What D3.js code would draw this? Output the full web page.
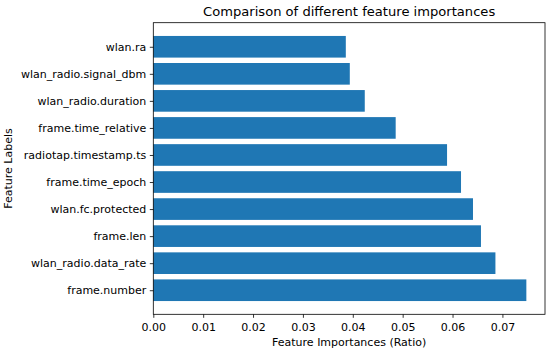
<!DOCTYPE html>
<html>
<head>
<meta charset="utf-8">
<script src="https://cdn.jsdelivr.net/npm/d3@7"></script>
<style>
body { margin: 0; background: #fff; }
text { font-family: "DejaVu Sans", sans-serif; fill: #000; }
</style>
</head>
<body>
<svg width="550" height="351"></svg>
<script>
// features listed bottom to top, as matplotlib barh draws them
var features = ["frame.number", "wlan_radio.data_rate", "frame.len", "wlan.fc.protected",
  "frame.time_epoch", "radiotap.timestamp.ts", "frame.time_relative",
  "wlan_radio.duration", "wlan_radio.signal_dbm", "wlan.ra"];
var importances = [0.0748, 0.0686, 0.0657, 0.0641, 0.0617, 0.0589, 0.0486, 0.0424, 0.0394, 0.0386];
var xTicks = [0, 0.01, 0.02, 0.03, 0.04, 0.05, 0.06, 0.07];

var svg = d3.select("svg");
// note: "top" is taken by window.top, so use plot* names
var plotLeft = 153.3, plotRight = 545, plotTop = 22.7, plotBottom = 314.3;
var barH = 0.8;

var xMax = d3.max(importances) * 1.05;
var x = d3.scaleLinear().domain([0, xMax]).range([plotLeft, plotRight]);

var span = (features.length - 1) + barH;
var y = d3.scaleLinear()
  .domain([-barH / 2 - span * 0.05, features.length - 1 + barH / 2 + span * 0.05])
  .range([plotBottom, plotTop]);

svg.selectAll(".bar")
  .data(importances)
  .enter().append("rect")
  .attr("class", "bar")
  .attr("x", x(0))
  .attr("y", function(d, i) { return y(i + barH / 2); })
  .attr("width", function(d) { return x(d) - x(0); })
  .attr("height", function(d, i) { return y(i - barH / 2) - y(i + barH / 2); })
  .attr("fill", "#1f77b4");

var xAxis = svg.append("g")
  .attr("transform", "translate(0," + plotBottom + ")")
  .call(d3.axisBottom(x).tickValues(xTicks).tickFormat(d3.format(".2f")).tickSize(3.5).tickPadding(5));

var yAxis = svg.append("g")
  .attr("transform", "translate(" + plotLeft + ",0)")
  .call(d3.axisLeft(y).tickValues(d3.range(features.length))
    .tickFormat(function(i) { return features[i]; }).tickSize(3.5).tickPadding(3.5));

[xAxis, yAxis].forEach(function(g) {
  g.select(".domain").remove();
  g.selectAll("line").attr("stroke", "#000").attr("stroke-width", 0.8);
  g.selectAll("text").style("font-size", "11px").attr("fill", "#000");
});

// frame
svg.append("rect")
  .attr("x", plotLeft).attr("y", plotTop)
  .attr("width", plotRight - plotLeft).attr("height", plotBottom - plotTop)
  .attr("fill", "none").attr("stroke", "#000").attr("stroke-width", 0.8);

svg.append("text")
  .attr("x", (plotLeft + plotRight) / 2).attr("y", 15.5)
  .attr("text-anchor", "middle")
  .style("font-size", "13.1px")
  .text("Comparison of different feature importances");

svg.append("text")
  .attr("x", (plotLeft + plotRight) / 2).attr("y", 346)
  .attr("text-anchor", "middle")
  .style("font-size", "11px")
  .text("Feature Importances (Ratio)");

svg.append("text")
  .attr("transform", "translate(12," + (plotTop + plotBottom) / 2 + ") rotate(-90)")
  .attr("text-anchor", "middle")
  .style("font-size", "11px")
  .text("Feature Labels");
</script>
</body>
</html>
